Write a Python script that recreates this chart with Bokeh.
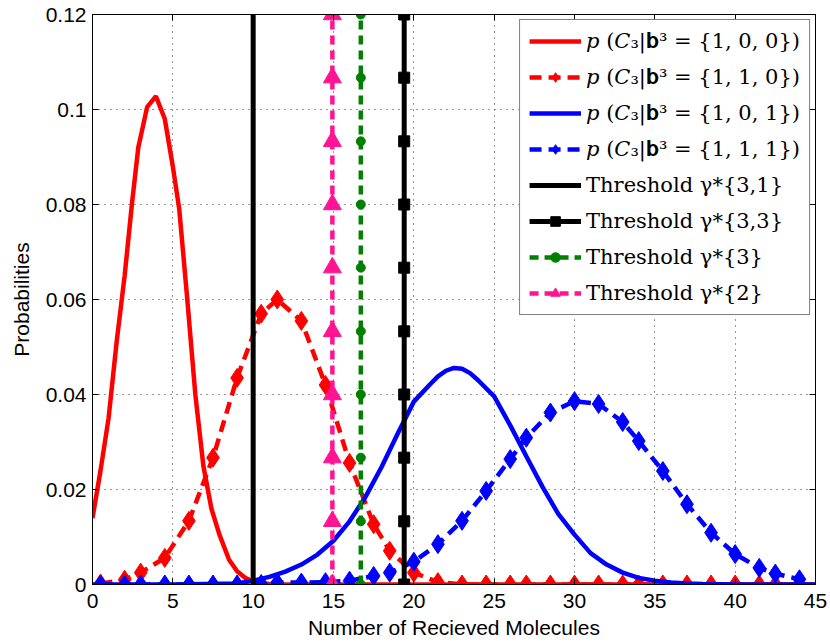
from bokeh.plotting import figure
from bokeh.models import (Range1d, FixedTicker, LinearAxis, Legend, LegendItem,
                          PrintfTickFormatter)
from bokeh.embed import file_html
from bokeh.resources import INLINE

# ---------------- data ----------------
# p(C3 | b3 = {1,0,0})  -- red solid
red_solid_x = [0, 0.5, 1, 1.5, 2, 2.45, 2.85, 3.4, 3.95, 4.5, 5, 5.4, 5.9, 6.4, 6.9,
               7.4, 7.9, 8.5, 9, 9.5, 10, 11, 12, 15, 20, 25, 30, 35, 40, 45]
red_solid_y = [0.014, 0.024, 0.035, 0.051, 0.065, 0.080, 0.092, 0.1005, 0.1028, 0.098,
               0.088, 0.079, 0.060, 0.040, 0.025, 0.016, 0.0105, 0.0052, 0.0028, 0.0014,
               0.0006, 0.0001, 0, 0, 0, 0, 0, 0, 0, 0]

# p(C3 | b3 = {1,0,1})  -- blue solid
blue_solid_x = [0, 5, 9, 10, 11, 12, 13, 14, 15, 16, 17, 18, 19, 20, 21, 21.5, 22, 22.5,
                23, 23.5, 24, 25, 26, 27, 28, 29, 30, 31, 32, 33, 34, 35, 36, 37, 38, 40, 45]
blue_solid_y = [0, 0, 0.0002, 0.0008, 0.0016, 0.0027, 0.0042, 0.0063, 0.0092, 0.0133,
                0.0185, 0.0248, 0.0318, 0.0385, 0.0421, 0.0438, 0.0450, 0.0456, 0.0454,
                0.0445, 0.0430, 0.0396, 0.0335, 0.0270, 0.0206, 0.0148, 0.0105, 0.0066,
                0.0042, 0.0025, 0.0014, 0.0008, 0.0004, 0.0002, 0.0001, 0, 0]

# marker positions of the dashed curves
dashed_x = [0.5, 2, 3, 4.5, 6, 7.5, 9, 10.5, 11.5, 13, 14.5, 16, 17.5, 18.5, 20, 21.5,
            23, 24.5, 26, 27, 28.5, 30, 31.5, 33, 34, 35.5, 37, 38.5, 40, 41.5, 42.5, 44]
# p(C3 | b3 = {1,1,0})  -- red dashed with diamonds
red_dashed_y = [0.0002, 0.001, 0.0025, 0.0056, 0.0134, 0.0267, 0.0435, 0.0570, 0.0600,
                0.0555, 0.0420, 0.0256, 0.0127, 0.0071, 0.0025, 0.0005, 0, 0, 0, 0, 0, 0,
                0, 0, 0, 0, 0, 0, 0, 0, 0, 0]
# p(C3 | b3 = {1,1,1})  -- blue dashed with diamonds
blue_dashed_y = [0, 0, 0, 0, 0, 0, 0, 0.0001, 0.0004, 0.0004, 0.0005, 0.0008, 0.0018,
                 0.0025, 0.0048, 0.0085, 0.0134, 0.0197, 0.0264, 0.0309, 0.0362, 0.0386,
                 0.0380, 0.0342, 0.0302, 0.0239, 0.0169, 0.0109, 0.0064, 0.0035, 0.0023,
                 0.0011]

# thresholds (vertical lines) and the heights of their markers
threshold_31 = 10.0
threshold_33 = 19.4
threshold_3 = 16.7
threshold_2 = 14.93
threshold_y = [0, 0.0133, 0.0267, 0.04, 0.0533, 0.0667, 0.08, 0.0933, 0.1067, 0.12]

x_ticks = [0, 5, 10, 15, 20, 25, 30, 35, 40, 45]
y_ticks = [0, 0.02, 0.04, 0.06, 0.08, 0.1, 0.12]

labels = [
    "𝑝 (𝐶₃|𝐛³ = {1, 0, 0})",
    "𝑝 (𝐶₃|𝐛³ = {1, 1, 0})",
    "𝑝 (𝐶₃|𝐛³ = {1, 0, 1})",
    "𝑝 (𝐶₃|𝐛³ = {1, 1, 1})",
    "Threshold γ*{3,1}",
    "Threshold γ*{3,3}",
    "Threshold γ*{3}",
    "Threshold γ*{2}",
]

RED = "#FF0000"
BLUE = "#0000FF"
GREEN = "#008000"
PINK = "#FF1493"
DASH = "12 7"

# ---------------- figure ----------------
p = figure(width=830, height=642, x_range=Range1d(0, 45), y_range=Range1d(0, 0.12),
           output_backend="svg", toolbar_location=None,
           min_border_left=92, min_border_right=15, min_border_top=14,
           min_border_bottom=58)
p.background_fill_color = "white"
p.border_fill_color = "white"
p.outline_line_color = "black"
p.outline_line_width = 1

xt = FixedTicker(ticks=x_ticks)
yt = FixedTicker(ticks=y_ticks)

TICK_FONT = "Liberation Sans"
for ax in (p.xaxis[0], p.yaxis[0]):
    ax.major_tick_in = 6
    ax.major_tick_out = 0
    ax.minor_tick_in = 0
    ax.minor_tick_out = 0
    ax.axis_line_color = "black"
    ax.major_tick_line_color = "black"
    ax.major_label_text_font = TICK_FONT
    ax.major_label_text_font_size = "21px"
    ax.major_label_text_color = "black"
    ax.axis_label_text_font = TICK_FONT
    ax.axis_label_text_font_size = "21px"
    ax.axis_label_text_font_style = "normal"
    ax.axis_label_text_color = "black"

p.xaxis[0].ticker = xt
p.yaxis[0].ticker = yt
p.yaxis[0].formatter = PrintfTickFormatter(format="%g")
p.xaxis[0].axis_label = "Number of Recieved Molecules"
p.yaxis[0].axis_label = "Probabilities"
p.xaxis[0].major_label_standoff = 9
p.xaxis[0].axis_label_standoff = 5
p.yaxis[0].major_label_standoff = 6
p.yaxis[0].axis_label_standoff = 10

# box axes (top / right): inward ticks only, no labels
for loc, tk in (("right", yt), ("above", xt)):
    ax = LinearAxis(ticker=tk, major_label_text_font_size="0px",
                    major_label_text_color=None, major_tick_in=6,
                    major_tick_out=0, minor_tick_in=0, minor_tick_out=0,
                    axis_line_color="black", major_tick_line_color="black",
                    major_label_standoff=0)
    p.add_layout(ax, loc)

for g, tk in ((p.xgrid[0], xt), (p.ygrid[0], yt)):
    g.ticker = tk
    g.grid_line_color = "#333333"
    g.grid_line_dash = "1 5"
    g.grid_line_width = 1

# ---------------- curves ----------------
r1 = p.line(red_solid_x, red_solid_y, line_color=RED, line_width=4.5)

r2l = p.line(dashed_x, red_dashed_y, line_color=RED, line_width=4.5, line_dash=DASH)
r2m = p.scatter(dashed_x, red_dashed_y, marker="diamond", size=19, fill_color=RED,
                line_color=RED, line_width=1)

r3 = p.line(blue_solid_x, blue_solid_y, line_color=BLUE, line_width=4.5)

r4l = p.line(dashed_x, blue_dashed_y, line_color=BLUE, line_width=4.5, line_dash=DASH)
r4m = p.scatter(dashed_x, blue_dashed_y, marker="diamond", size=19, fill_color=BLUE,
                line_color=BLUE, line_width=1)

y_lo, y_hi = threshold_y[0], threshold_y[-1]
r5 = p.segment(x0=[threshold_31], y0=[y_lo], x1=[threshold_31], y1=[y_hi],
               line_color="black", line_width=5)

r6l = p.line([threshold_33] * len(threshold_y), threshold_y, line_color="black",
             line_width=5)
r6m = p.scatter([threshold_33] * len(threshold_y), threshold_y, marker="square",
                size=11, fill_color="black", line_color="black")

r7l = p.line([threshold_3] * len(threshold_y), threshold_y, line_color=GREEN,
             line_width=4.5, line_dash="9 6")
r7m = p.scatter([threshold_3] * len(threshold_y), threshold_y, marker="circle",
                size=9, fill_color=GREEN, line_color=GREEN)

r8l = p.line([threshold_2] * len(threshold_y), threshold_y, line_color=PINK,
             line_width=4.5, line_dash="9 6")
r8m = p.scatter([threshold_2] * len(threshold_y), threshold_y, marker="triangle",
                size=18, fill_color=PINK, line_color=PINK)

items = [
    LegendItem(label=labels[0], renderers=[r1]),
    LegendItem(label=labels[1], renderers=[r2l, r2m]),
    LegendItem(label=labels[2], renderers=[r3]),
    LegendItem(label=labels[3], renderers=[r4l, r4m]),
    LegendItem(label=labels[4], renderers=[r5]),
    LegendItem(label=labels[5], renderers=[r6l, r6m]),
    LegendItem(label=labels[6], renderers=[r7l, r7m]),
    LegendItem(label=labels[7], renderers=[r8l, r8m]),
]
legend = Legend(items=items, location="top_right")
legend.label_text_font = "DejaVu Serif"
legend.label_text_font_size = "21px"
legend.label_text_color = "black"
legend.glyph_width = 52
legend.glyph_height = 24
legend.label_height = 24
legend.label_standoff = 5
legend.spacing = 12
legend.padding = 9
legend.margin = 5
legend.border_line_color = "black"
legend.border_line_width = 1.5
legend.background_fill_color = "white"
legend.background_fill_alpha = 1.0
p.add_layout(legend)

open("out.html", "w").write(file_html(p, INLINE))
